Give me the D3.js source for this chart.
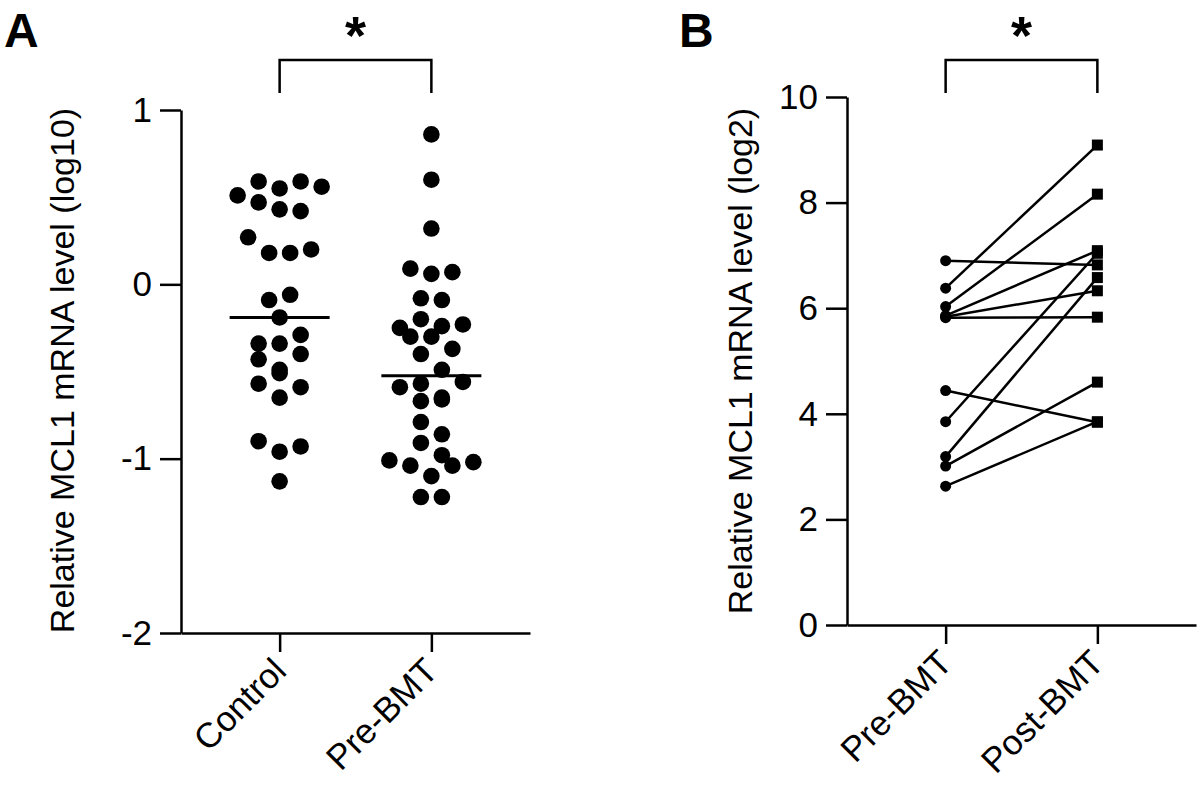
<!DOCTYPE html>
<html>
<head>
<meta charset="utf-8">
<script src="https://cdn.jsdelivr.net/npm/d3@7"></script>
<style>
  body { margin: 0; background: #fff; }
  svg { display: block; font-family: "Liberation Sans", Arial, sans-serif; }
  .axis path, .axis line { stroke: #000; stroke-width: 2.5; }
  .axis text { fill: #000; font-size: 35px; }
</style>
</head>
<body>
<div id="chart"></div>
<script>
// panel A: relative MCL1 level (log10), read row by row, left to right
const groupsA = ["Control", "Pre-BMT"];
const controlValues = [
  0.51, 0.59, 0.55, 0.59, 0.56,
  0.47, 0.43, 0.42,
  0.27, 0.18, 0.18, 0.20,
  -0.09, -0.06,
  -0.19,
  -0.34, -0.34, -0.29,
  -0.43, -0.49, -0.40,
  -0.57, -0.51, -0.59,
  -0.65,
  -0.90, -0.96, -0.93,
  -1.13
];
const preBmtValues = [
  0.86,
  0.60,
  0.32,
  0.09, 0.06, 0.07,
  -0.08, -0.09,
  -0.25, -0.20, -0.24, -0.23,
  -0.30, -0.30, -0.37,
  -0.40, -0.49,
  -0.59, -0.57, -0.65, -0.56,
  -0.67, -0.66,
  -0.79, -0.86,
  -0.91, -0.98,
  -1.01, -1.04, -1.10, -1.04, -1.02,
  -1.22, -1.22
];
const ticksA = [-2, -1, 0, 1];

// panel B: paired samples (log2)
const groupsB = ["Pre-BMT", "Post-BMT"];
const pairedPre  = [6.90, 6.38, 6.03, 5.86, 5.84, 5.82, 4.44, 3.85, 3.19, 3.01, 2.63];
const pairedPost = [6.82, 9.09, 8.16, 7.09, 6.33, 5.83, 3.84, 7.04, 6.58, 4.60, 3.85];
const ticksB = [0, 2, 4, 6, 8, 10];

const svg = d3.select("#chart").append("svg")
    .attr("width", 1200)
    .attr("height", 790);

svg.append("rect").attr("width", 1200).attr("height", 790).attr("fill", "#fff");

// groups dots that sit within one dot height and spreads them sideways
function swarm(values, y, gap, step) {
    const order = d3.range(values.length).sort((a, b) => values[b] - values[a]);
    const offsets = new Array(values.length).fill(0);
    let i = 0;
    while (i < order.length) {
        const top = y(values[order[i]]);
        let j = i + 1;
        while (j < order.length && y(values[order[j]]) - top < gap) j++;
        const members = order.slice(i, j).sort((a, b) => a - b);
        members.forEach((m, k) => {
            offsets[m] = (k - (members.length - 1) / 2) * step;
        });
        i = j;
    }
    return offsets;
}

function bracket(g, x1, x2) {
    g.append("path")
        .attr("d", `M${x1},93V60H${x2}V93`)
        .attr("fill", "none")
        .attr("stroke", "#000")
        .attr("stroke-width", 2.5);
    g.append("text")
        .attr("x", (x1 + x2) / 2)
        .attr("y", 54)
        .attr("text-anchor", "middle")
        .attr("font-size", 54)
        .attr("font-weight", "bold")
        .text("*");
}

function xAxis(g, x, y0) {
    const ax = g.append("g")
        .attr("class", "axis")
        .attr("transform", `translate(0,${y0})`)
        .call(d3.axisBottom(x).tickSize(19).tickSizeOuter(0));
    ax.selectAll("text")
        .attr("x", 0).attr("y", 0).attr("dy", 0)
        .attr("font-size", 36)
        .attr("transform", "translate(8,40) rotate(-45)")
        .style("text-anchor", "end");
}

const fmt = d => String(d);

// ---------- Panel A ----------
const gA = svg.append("g");
const yA = d3.scaleLinear().domain([-2, 1]).range([633, 110]);
const xA = d3.scalePoint().domain(groupsA).range([181, 530]).padding(0.65);

gA.append("g")
    .attr("class", "axis")
    .attr("transform", "translate(181,0)")
    .call(d3.axisLeft(yA).tickValues(ticksA).tickFormat(fmt)
        .tickSize(21).tickSizeOuter(0).tickPadding(8));
xAxis(gA, xA, 633);

gA.append("text")
    .attr("transform", `translate(74,${(108 + 633) / 2}) rotate(-90)`)
    .attr("text-anchor", "middle")
    .attr("font-size", 34)
    .text("Relative MCL1 mRNA level (log10)");

[controlValues, preBmtValues].forEach((vals, gi) => {
    const cx = xA(groupsA[gi]);
    const off = swarm(vals, yA, 17, 21);
    gA.append("g").selectAll("circle")
        .data(vals).enter().append("circle")
        .attr("cx", (d, i) => cx + off[i])
        .attr("cy", d => yA(d))
        .attr("r", 8.3)
        .attr("fill", "#000");
    const med = d3.median(vals);
    gA.append("line")
        .attr("x1", cx - 50).attr("x2", cx + 50)
        .attr("y1", yA(med)).attr("y2", yA(med))
        .attr("stroke", "#000")
        .attr("stroke-width", 3);
});

bracket(gA, xA("Control"), xA("Pre-BMT"));

gA.append("text")
    .attr("x", 4).attr("y", 47)
    .attr("font-size", 48)
    .attr("font-weight", "bold")
    .text("A");

// ---------- Panel B ----------
const gB = svg.append("g");
const yB = d3.scaleLinear().domain([0, 10]).range([625, 97]);
const xB = d3.scalePoint().domain(groupsB).range([847, 1196]).padding(0.65);

gB.append("g")
    .attr("class", "axis")
    .attr("transform", "translate(847,0)")
    .call(d3.axisLeft(yB).tickValues(ticksB).tickFormat(fmt)
        .tickSize(21).tickSizeOuter(0).tickPadding(8));
xAxis(gB, xB, 625);

gB.append("text")
    .attr("transform", `translate(752,${(97 + 625) / 2}) rotate(-90)`)
    .attr("text-anchor", "middle")
    .attr("font-size", 34)
    .text("Relative MCL1 mRNA level (log2)");

const pairs = pairedPre.map((p, i) => ({pre: p, post: pairedPost[i]}));

gB.append("g").selectAll("line")
    .data(pairs).enter().append("line")
    .attr("x1", xB("Pre-BMT")).attr("y1", d => yB(d.pre))
    .attr("x2", xB("Post-BMT")).attr("y2", d => yB(d.post))
    .attr("stroke", "#000")
    .attr("stroke-width", 2.5);

gB.append("g").selectAll("circle")
    .data(pairs).enter().append("circle")
    .attr("cx", xB("Pre-BMT"))
    .attr("cy", d => yB(d.pre))
    .attr("r", 5.5)
    .attr("fill", "#000");

gB.append("g").selectAll("rect")
    .data(pairs).enter().append("rect")
    .attr("x", xB("Post-BMT") - 5.5)
    .attr("y", d => yB(d.post) - 5.5)
    .attr("width", 11).attr("height", 11)
    .attr("fill", "#000");

bracket(gB, xB("Pre-BMT"), xB("Post-BMT"));

gB.append("text")
    .attr("x", 679).attr("y", 47)
    .attr("font-size", 48)
    .attr("font-weight", "bold")
    .text("B");
</script>
</body>
</html>
